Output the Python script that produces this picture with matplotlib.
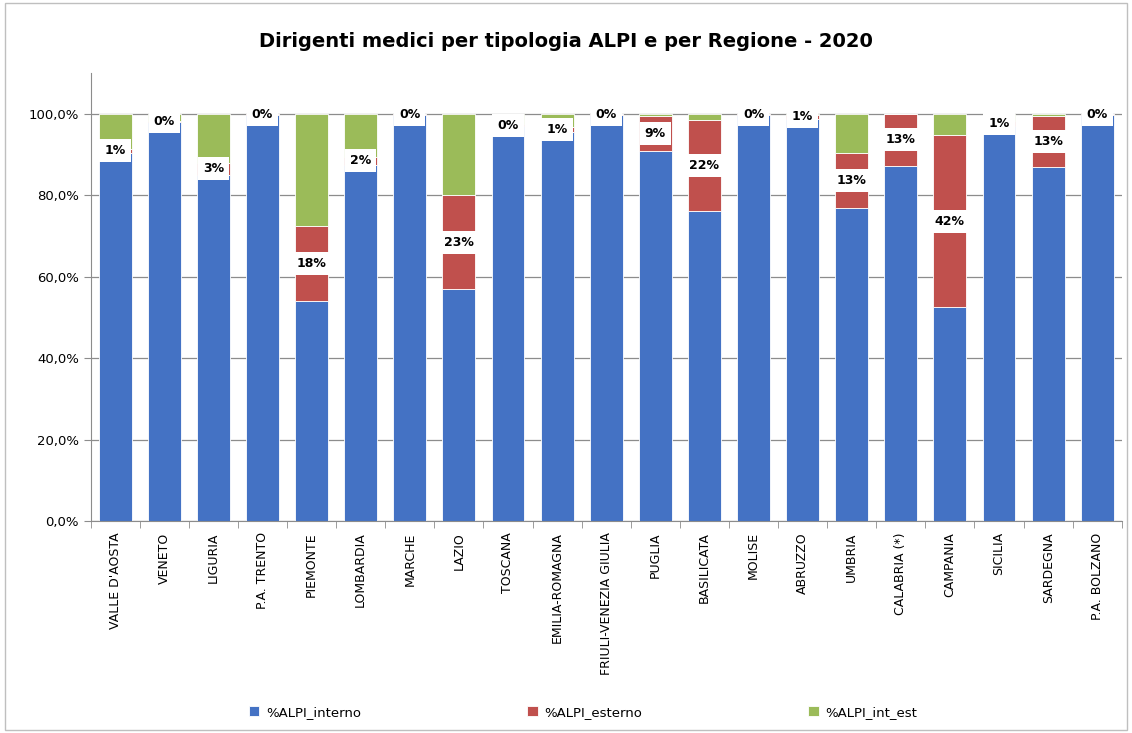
import matplotlib
matplotlib.use("Agg")
import matplotlib.pyplot as plt
from matplotlib.patches import Rectangle
from matplotlib.ticker import FuncFormatter
import numpy as np

regioni = ["VALLE D'AOSTA", "VENETO", "LIGURIA", "P.A. TRENTO", "PIEMONTE", "LOMBARDIA",
           "MARCHE", "LAZIO", "TOSCANA", "EMILIA-ROMAGNA", "FRIULI-VENEZIA GIULIA", "PUGLIA",
           "BASILICATA", "MOLISE", "ABRUZZO", "UMBRIA", "CALABRIA (*)", "CAMPANIA", "SICILIA",
           "SARDEGNA", "P.A. BOLZANO"]
alpi_interno = [90.5, 98.0, 85.0, 99.8, 54.1, 87.5, 99.8, 57.0, 97.1, 95.5, 99.8, 90.8,
                76.2, 99.8, 98.8, 77.0, 87.3, 52.5, 97.0, 87.0, 99.8]
alpi_esterno = [1.0, 0.3, 3.0, 0.2, 18.4, 2.0, 0.2, 23.0, 0.4, 1.2, 0.2, 8.7,
                22.3, 0.2, 1.0, 13.4, 12.7, 42.3, 1.2, 12.6, 0.2]
alpi_int_est = [8.5, 1.7, 12.0, 0.0, 27.5, 10.5, 0.0, 20.0, 2.5, 3.3, 0.0, 0.5,
                1.5, 0.0, 0.2, 9.6, 0.0, 5.2, 1.8, 0.4, 0.0]
etichette = ["1%", "0%", "3%", "0%", "18%", "2%", "0%", "23%", "0%", "1%", "0%", "9%",
             "22%", "0%", "1%", "13%", "13%", "42%", "1%", "13%", "0%"]

plt.rcParams["font.family"] = ["DejaVu Sans"]

fig = plt.figure(figsize=(11.32, 7.33), dpi=100)
ax = fig.add_axes([0.080, 0.289, 0.911, 0.611])

x = np.arange(len(regioni))
w = 0.67
interno = np.array(alpi_interno)
esterno = np.array(alpi_esterno)
intest = np.array(alpi_int_est)

ax.bar(x, interno, w, color="#4472C4", edgecolor="white", linewidth=0.6, label="%ALPI_interno", zorder=2)
ax.bar(x, esterno, w, bottom=interno, color="#C0504D", edgecolor="white", linewidth=0.6,
       label="%ALPI_esterno", zorder=2)
ax.bar(x, intest, w, bottom=interno + esterno, color="#9BBB59", edgecolor="white", linewidth=0.6,
       label="%ALPI_int_est", zorder=2)

# etichette sul segmento esterno
for xi, b, h, t in zip(x, interno, esterno, etichette):
    ax.text(xi, b + h / 2, t, ha="center", va="center", fontsize=9, fontweight="bold",
            zorder=4, bbox=dict(boxstyle="square,pad=0.4", fc="white", ec="none"))

ax.set_xlim(-0.5, len(regioni) - 0.5)
ax.set_ylim(0, 110)
ax.set_yticks(np.arange(0, 101, 20))
ax.yaxis.set_major_formatter(FuncFormatter(lambda v, p: f"{v:.1f}%".replace(".", ",")))
ax.grid(axis="y", color="#8c8c8c", linewidth=0.9, zorder=0)
ax.set_axisbelow(True)

ax.set_xticks(x)
ax.set_xticklabels(regioni, rotation=90, fontsize=9)
ax.tick_params(axis="x", length=0, pad=8)
ax.set_xticks(np.arange(-0.5, len(regioni)), minor=True)
ax.tick_params(axis="x", which="minor", length=5, color="#8c8c8c")
ax.tick_params(axis="y", labelsize=9.5, length=5, color="#8c8c8c")

for s in ["top", "right"]:
    ax.spines[s].set_visible(False)
for s in ["left", "bottom"]:
    ax.spines[s].set_color("#8c8c8c")

fig.suptitle("Dirigenti medici per tipologia ALPI e per Regione - 2020", x=0.5, y=0.957,
             fontsize=14, fontweight="bold")

fig.legend(loc="center", bbox_to_anchor=(0.515, 0.028), ncol=3, frameon=False, fontsize=9.5,
           handlelength=0.8, handleheight=0.8, columnspacing=12.6, handletextpad=0.5)

fig.patches.append(Rectangle((0.004, 0.004), 0.992, 0.992, transform=fig.transFigure,
                             fill=False, edgecolor="#bfbfbf", linewidth=1))

fig.savefig("out.png", dpi=100)
